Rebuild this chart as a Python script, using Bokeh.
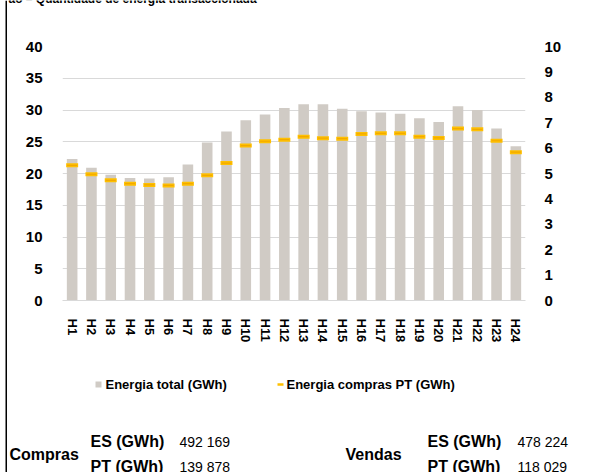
from bokeh.plotting import figure
from bokeh.layouts import row, column
from bokeh.models import (FactorRange, Range1d, LinearAxis, SingleIntervalTicker, Label)
from bokeh.embed import file_html
from bokeh.resources import INLINE

# ---------------- data ----------------
hours = ["H1", "H2", "H3", "H4", "H5", "H6", "H7", "H8", "H9", "H10", "H11", "H12",
         "H13", "H14", "H15", "H16", "H17", "H18", "H19", "H20", "H21", "H22", "H23", "H24"]
energia_total = [22.3, 20.9, 19.8, 19.3, 19.2, 19.4, 21.4, 24.9, 26.6, 28.4, 29.3, 30.3,
                 30.9, 30.9, 30.2, 29.8, 29.6, 29.4, 28.7, 28.1, 30.6, 30.0, 27.1, 24.3]
energia_compras_pt = [5.32, 4.97, 4.73, 4.60, 4.55, 4.53, 4.60, 4.93, 5.41, 6.10, 6.27, 6.33,
                      6.45, 6.39, 6.37, 6.56, 6.58, 6.58, 6.45, 6.40, 6.77, 6.74, 6.29, 5.84]
series_names = ["Energia total (GWh)", "Energia compras PT (GWh)"]
title_text = "ão – Quantidade de energia transaccionada"
summary_rows = ["ES (GWh)", "PT (GWh)"]
compras_values = ["492 169", "139 878"]
vendas_values = ["478 224", "118 029"]

# ---------------- layout constants (picture pixels) ----------------
W, H = 591, 472
LINE_W = 7              # strip holding the black left rule
COL_W = W - LINE_W      # 584
TOP_H = 20
FL, FW = 55, 463        # main frame left (inside column) / width
FT, FH = 26, 254        # main frame top (inside main fig) / height
MAIN_BOTTOM = 60
MAIN_H = FT + FH + MAIN_BOTTOM
BOT_Y0 = TOP_H + MAIN_H  # 360
BOT_H = H - BOT_Y0
FONT = "Liberation Sans"
BAR_COLOR = "#D0CBC5"
GOLD = "#FFC000"


def pixel_fig(w, x0, y0, h):
    f = figure(width=w, height=h, x_range=Range1d(x0, x0 + w), y_range=Range1d(y0 + h, y0),
               min_border=0, toolbar_location=None, output_backend="svg",
               x_axis_location=None, y_axis_location=None, title=None, frame_align=False)
    f.grid.visible = False
    f.outline_line_color = None
    f.background_fill_color = "white"
    f.border_fill_color = "white"
    return f


def lab(f, text, X, Y, size, bold=True, baseline="middle"):
    f.add_layout(Label(x=X, y=Y, text=text, text_font=FONT, text_font_size=f"{size}px",
                       text_font_style="bold" if bold else "normal",
                       text_color="#000000", text_align="left", text_baseline=baseline))


# ---- black left rule ----
rule = pixel_fig(LINE_W, 0, 0, H)
rule.quad(left=5, right=7, top=0, bottom=H, fill_color="#000000", line_color=None)

# ---- top strip with the clipped title ----
top = pixel_fig(COL_W, LINE_W, 0, TOP_H)
lab(top, title_text, 8, -2, 12, baseline="alphabetic")

# ---- main chart ----
p = figure(x_range=FactorRange(*hours), y_range=Range1d(0, 40),
           frame_width=FW, frame_height=FH,
           min_border_left=FL, min_border_right=COL_W - FL - FW,
           min_border_top=FT, min_border_bottom=MAIN_BOTTOM,
           toolbar_location=None, output_backend="svg", title=None, frame_align=False)
p.outline_line_color = None
p.background_fill_color = "white"
p.border_fill_color = "white"
p.extra_y_ranges = {"pt": Range1d(0, 10)}

p.vbar(x=hours, top=energia_total, width=0.55, fill_color=BAR_COLOR, line_color=None)
p.scatter(x=hours, y=energia_compras_pt, y_range_name="pt", marker="dash",
          size=12, line_width=4, line_color=GOLD)
p.scatter(x=hours, y=energia_compras_pt, y_range_name="pt", marker="dash",
          size=10, line_width=1.2, line_color="#F2A900")

yl = p.yaxis[0]
yl.ticker = SingleIntervalTicker(interval=5)
yr = LinearAxis(y_range_name="pt", ticker=SingleIntervalTicker(interval=1))
p.add_layout(yr, "right")
for ax, st in ((yl, 14), (yr, 13)):
    ax.axis_line_color = None
    ax.major_tick_line_color = None
    ax.minor_tick_line_color = None
    ax.major_label_standoff = st
    ax.major_label_text_font = FONT
    ax.major_label_text_font_style = "bold"
    ax.major_label_text_font_size = "15px"
    ax.major_label_text_color = "#000000"

xa = p.xaxis[0]
xa.axis_line_color = "#D9D9D9"
xa.major_tick_line_color = None
xa.minor_tick_line_color = None
xa.major_label_orientation = "vertical"
xa.major_label_standoff = 12
xa.major_label_text_font = FONT
xa.major_label_text_font_style = "bold"
xa.major_label_text_font_size = "13px"
xa.major_label_text_color = "#000000"

p.xgrid.grid_line_color = None
p.ygrid.grid_line_color = "#D9D9D9"
p.ygrid.grid_line_width = 1

# ---- bottom strip: legend + summary ----
bot = pixel_fig(COL_W, LINE_W, BOT_Y0, BOT_H)
LEG_Y = 384
bot.quad(left=95, right=101, top=LEG_Y - 3, bottom=LEG_Y + 3, fill_color=BAR_COLOR, line_color=None)
lab(bot, series_names[0], 105, LEG_Y, 13)
bot.segment(x0=[277], y0=[LEG_Y], x1=[283], y1=[LEG_Y], line_color=GOLD, line_width=2.5)
lab(bot, series_names[1], 286, LEG_Y, 13)

lab(bot, "Compras", 9, 454, 16)
lab(bot, "Vendas", 345, 454, 16)
for i, yy in enumerate((441, 466)):
    lab(bot, summary_rows[i], 90, yy, 16)
    lab(bot, compras_values[i], 179, yy, 14, bold=False)
    lab(bot, summary_rows[i], 427, yy, 16)
    lab(bot, vendas_values[i], 517, yy, 14, bold=False)

root = row(rule, column(top, p, bot, spacing=0), spacing=0)
open("out.html", "w").write(file_html(root, INLINE))
